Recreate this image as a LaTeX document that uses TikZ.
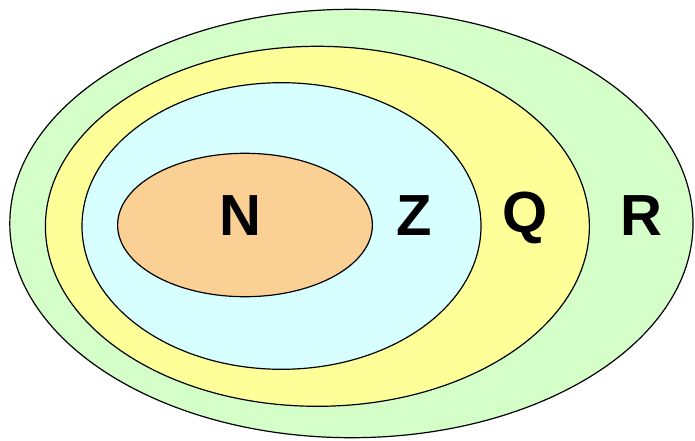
\documentclass[tikz,border=0pt]{standalone}
\usepackage{fontspec}
\setmainfont{Liberation Sans}
\definecolor{rgreen}{RGB}{212,255,200}
\definecolor{qyellow}{RGB}{255,255,153}
\definecolor{zcyan}{RGB}{215,255,255}
\definecolor{norange}{RGB}{250,208,148}
\begin{document}
\begin{tikzpicture}[x=1pt,y=-1pt,
  setell/.style={draw=black,line width=1.2pt},
  setlabel/.style={font=\fontsize{58}{58}\selectfont\bfseries,inner sep=0pt,anchor=center}]
\useasboundingbox (0,0) rectangle (695,441);
\fill[white] (0,0) rectangle (695,441);
\draw[setell,fill=rgreen] (351.4,223.5) ellipse [x radius=341.6,y radius=214.2];
\draw[setell,fill=qyellow] (317.4,226.3) ellipse [x radius=272,y radius=180];
\draw[setell,fill=zcyan] (281.5,226) ellipse [x radius=199.5,y radius=143.3];
\draw[setell,fill=norange] (245,225) ellipse [x radius=127.4,y radius=71.7];
\node[setlabel] (N) at (240,216) {N};
\node[setlabel] (Z) at (414,216) {Z};
\node[setlabel] (Q) at (525,218) {Q};
\node[setlabel] (R) at (641,216) {R};
\end{tikzpicture}
\end{document}
